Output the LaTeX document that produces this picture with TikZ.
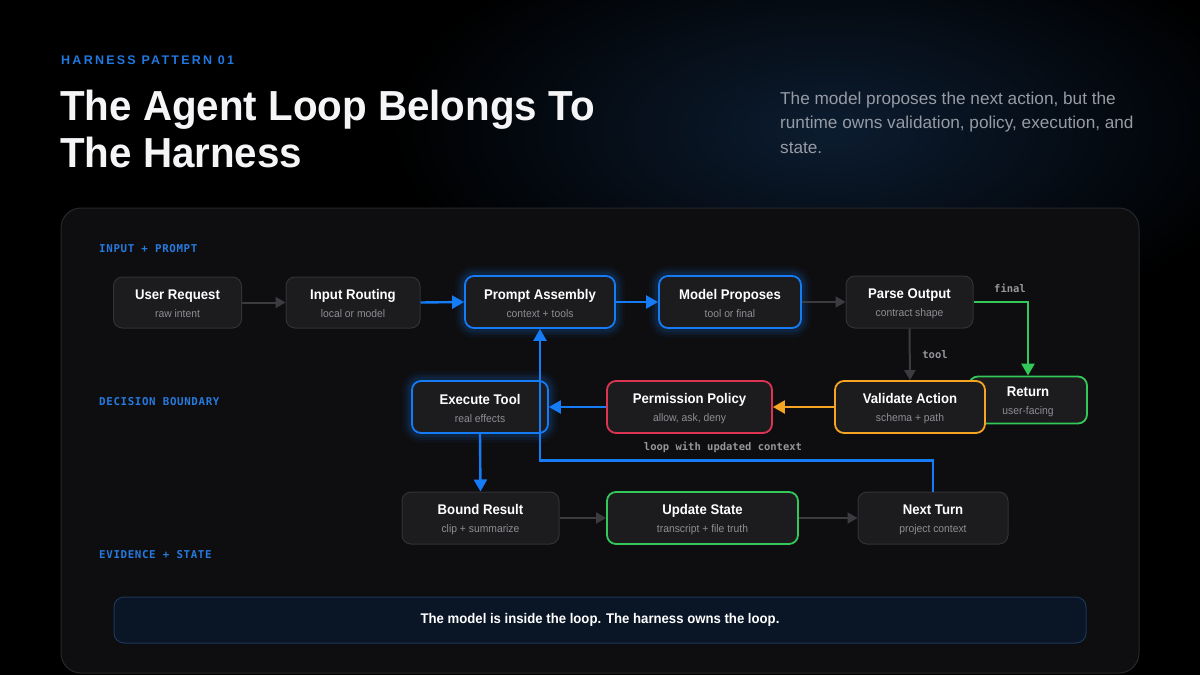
\documentclass[tikz,border=0pt]{standalone}
\usepackage{fontspec}
\setmainfont{Liberation Sans}
\newfontfamily\nodef{Liberation Sans}[FakeStretch=0.94]
\newfontfamily\titlef{Liberation Sans}[FakeStretch=0.96]
\newfontfamily\kickerf{Liberation Sans}[LetterSpace=18]
\newfontfamily\monof{DejaVu Sans Mono}
\newfontfamily\secf{DejaVu Sans Mono}[LetterSpace=6]
\usetikzlibrary{arrows.meta}

\definecolor{bgnavy}{RGB}{12,28,48}
\definecolor{panelfill}{RGB}{14,14,16}
\definecolor{panelline}{RGB}{40,40,44}
\definecolor{nodefill}{RGB}{28,28,31}
\definecolor{nodeline}{RGB}{50,50,54}
\definecolor{accblue}{RGB}{22,124,246}
\definecolor{accred}{RGB}{222,52,84}
\definecolor{accorange}{RGB}{246,164,36}
\definecolor{accgreen}{RGB}{52,199,89}
\definecolor{subgray}{RGB}{142,142,147}
\definecolor{lblgray}{RGB}{150,150,155}
\definecolor{secblue}{RGB}{38,122,222}
\definecolor{kickblue}{RGB}{32,120,225}
\definecolor{leadgray}{RGB}{150,155,164}
\definecolor{arrgray}{RGB}{60,60,64}
\definecolor{bannerfill}{RGB}{10,22,38}
\definecolor{bannerline}{RGB}{26,54,92}
\definecolor{titlewhite}{RGB}{245,245,247}

\pgfdeclarelayer{bg}
\pgfdeclarelayer{glow}
\pgfsetlayers{bg,glow,main}

\newcommand\nt[2]{\rule{0pt}{13pt}{\bfseries #1}\\{\fontsize{11}{12}\selectfont\color{subgray}#2}}

\tikzset{
  box/.style={draw=#1, fill=nodefill, rounded corners=9pt, line width=1.8pt,
    minimum height=52pt, inner sep=0pt, align=center, text=white,
    font=\nodef\fontsize{14}{18}\selectfont},
  graybox/.style={box=nodeline, line width=1pt},
  garrow/.style={draw=arrgray, line width=2pt, -{Triangle[length=10pt,width=11pt]}},
  barrow/.style={draw=accblue, line width=2.4pt, -{Triangle[length=12pt,width=13pt]}},
  oarrow/.style={draw=accorange, line width=2.4pt, -{Triangle[length=12pt,width=13pt]}},
  grarrow/.style={draw=accgreen, line width=2.4pt, -{Triangle[length=12pt,width=13pt]}},
  seclabel/.style={anchor=west, inner sep=0pt, text=secblue, font=\secf\bfseries\fontsize{10.8}{12}\selectfont},
  monolabel/.style={inner sep=0pt, text=lblgray, font=\monof\bfseries\fontsize{10.5}{12}\selectfont},
  leadtext/.style={anchor=base west, inner sep=0pt, text=leadgray, font=\fontsize{17.2}{20}\selectfont},
  titletext/.style={anchor=base west, inner sep=0pt, text=titlewhite, font=\titlef\bfseries\fontsize{42}{47}\selectfont},
}

\begin{document}
\begin{tikzpicture}[x=1pt, y=-1pt]
\useasboundingbox (0,0) rectangle (1200,675);

\begin{pgfonlayer}{bg}
  \fill[black] (0,0) rectangle (1200,675);
  \begin{scope}
    \clip (0,0) rectangle (1200,675);
    \shade[inner color=bgnavy, outer color=black] (830,130) ellipse (440 and 210);
  \end{scope}
  \draw[fill=panelfill, draw=panelline, line width=1pt, rounded corners=20pt]
    (61,208) rectangle (1139,673);
  \draw[fill=bannerfill, draw=bannerline, line width=1pt, rounded corners=10pt]
    (114,597) rectangle (1086,643);
\end{pgfonlayer}

% header
\node[anchor=base west, inner sep=0pt, text=kickblue, font=\kickerf\bfseries\fontsize{12.5}{14}\selectfont] (kicker) at (61,64) {HARNESS PATTERN 01};
\node[titletext] (title1) at (60,120) {The Agent Loop Belongs To};
\node[titletext] (title2) at (60,167) {The Harness};
\node[leadtext] (lead1) at (780,104) {The model proposes the next action, but the};
\node[leadtext] (lead2) at (780,128.5) {runtime owns validation, policy, execution, and};
\node[leadtext] (lead3) at (780,153) {state.};

% section labels
\node[seclabel] (sec1) at (99,249) {INPUT + PROMPT};
\node[seclabel] (sec2) at (99,402) {DECISION BOUNDARY};
\node[seclabel] (sec3) at (99,555) {EVIDENCE + STATE};

% nodes
\node[graybox, minimum width=128pt, minimum height=51pt] (user) at (177.5,302.5) {\nt{User Request}{raw intent}};
\node[graybox, minimum width=134pt, minimum height=51pt] (route) at (353,302.5) {\nt{Input Routing}{local or model}};
\node[box=accblue, minimum width=150pt] (prompt) at (540,302) {\nt{Prompt Assembly}{context + tools}};
\node[box=accblue, minimum width=142pt] (model) at (730,302) {\nt{Model Proposes}{tool or final}};
\node[graybox, minimum width=127pt] (parse) at (909.5,302) {\nt{Parse Output}{contract shape}};
\node[box=accgreen, minimum width=118pt, minimum height=47pt] (ret) at (1028,400) {\nt{Return}{user-facing}};
\node[box=accorange, minimum width=150pt] (valid) at (910,407) {\nt{Validate Action}{schema + path}};
\node[box=accred, minimum width=165pt] (perm) at (689.5,407) {\nt{Permission Policy}{allow, ask, deny}};
\node[box=accblue, minimum width=136pt] (exec) at (480,407) {\nt{Execute Tool}{real effects}};
\node[graybox, minimum width=157pt] (bound) at (480.5,518) {\nt{Bound Result}{clip + summarize}};
\node[box=accgreen, minimum width=191pt] (update) at (702.5,518) {\nt{Update State}{transcript + file truth}};
\node[graybox, minimum width=150pt] (next) at (933,518) {\nt{Next Turn}{project context}};

% glow for blue nodes
\begin{pgfonlayer}{glow}
  \foreach \n in {prompt,model,exec}{
    \foreach \w/\o in {18/0.05, 12/0.07, 7/0.10}{
      \draw[accblue, opacity=\o, line width=\w pt, rounded corners=10pt]
        (\n.south west) rectangle (\n.north east);
    }
  }
\end{pgfonlayer}

% connectors
\draw[garrow] (user.east) -- (route.west);
\draw[barrow] (route.east) -- (prompt.west);
\draw[barrow] (prompt.east) -- (model.west);
\draw[garrow] (model.east) -- (parse.west);
\draw[grarrow] (parse.east) -| (ret.north);
\draw[garrow] (parse.south) -- (valid.north);
\draw[oarrow] (valid.west) -- (perm.east);
\draw[barrow] (perm.west) -- (exec.east);
\draw[barrow] (exec.south) -- (bound.north);
\draw[garrow] (bound.east) -- (update.west);
\draw[garrow] (update.east) -- (next.west);
\draw[barrow] (next.north) -- ++(0,-31) -| (prompt.south);

% connector labels
\node[monolabel] (lfinal) at (1010,288) {final};
\node[monolabel] (ltool) at (935,355) {tool};
\node[monolabel] (lloop) at (723,447) {loop with updated context};

% banner text
\node[inner sep=0pt, text=white, font=\nodef\bfseries\fontsize{14}{16}\selectfont] (banner) at (600,620) {The model is inside the loop. The harness owns the loop.};
\end{tikzpicture}
\end{document}
